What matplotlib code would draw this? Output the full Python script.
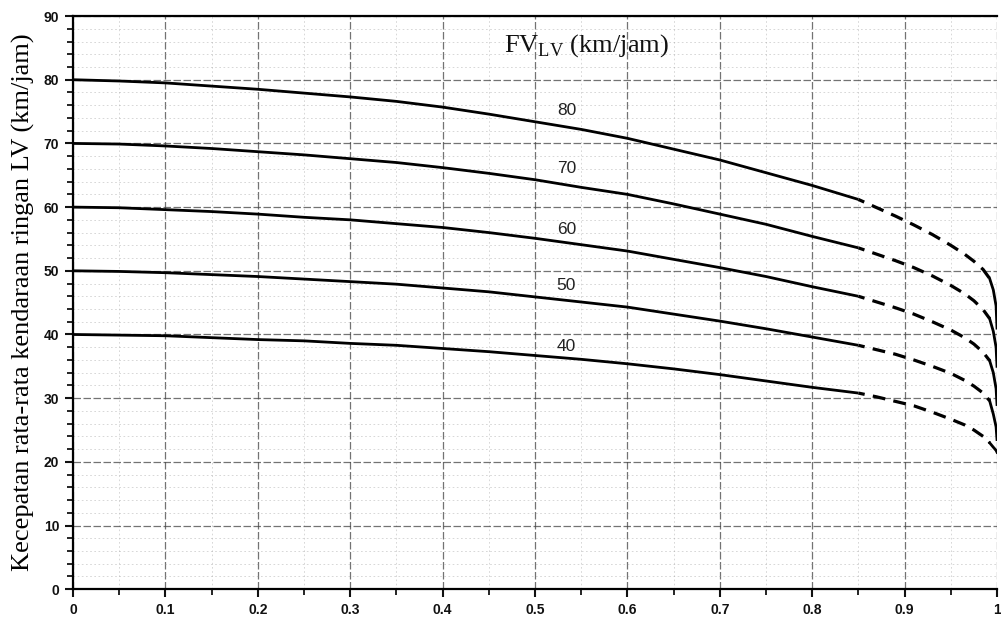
import numpy as np
import matplotlib.pyplot as plt
from matplotlib.ticker import MultipleLocator

# derajat kejenuhan (DS) — solid part
DS_SOLID = [0.0, 0.05, 0.1, 0.15, 0.2, 0.25, 0.3, 0.35, 0.4, 0.45,
            0.5, 0.55, 0.6, 0.65, 0.7, 0.75, 0.8, 0.85]
# dashed continuation towards DS = 1
DS_DASH = [0.85, 0.87, 0.89, 0.91, 0.93, 0.95, 0.965, 0.975, 0.985, 0.992]
# last steep bit that merges into the line at DS = 1
DS_END = [0.992, 0.996, 0.999, 1.0]

FV = [80, 70, 60, 50, 40]

V_SOLID = {
    80: [80.0, 79.8, 79.5, 79.0, 78.5, 77.9, 77.3, 76.6, 75.7, 74.6,
         73.4, 72.2, 70.8, 69.1, 67.4, 65.4, 63.4, 61.2],
    70: [70.0, 69.9, 69.6, 69.2, 68.7, 68.2, 67.6, 67.0, 66.2, 65.3,
         64.3, 63.1, 62.0, 60.5, 58.9, 57.3, 55.4, 53.6],
    60: [60.0, 59.9, 59.6, 59.3, 58.9, 58.4, 58.0, 57.4, 56.8, 56.0,
         55.1, 54.1, 53.1, 51.8, 50.5, 49.1, 47.5, 46.0],
    50: [50.0, 49.9, 49.7, 49.4, 49.1, 48.7, 48.3, 47.9, 47.3, 46.7,
         45.9, 45.1, 44.3, 43.2, 42.1, 40.9, 39.6, 38.3],
    40: [40.0, 39.9, 39.8, 39.5, 39.2, 39.0, 38.6, 38.3, 37.8, 37.3,
         36.7, 36.1, 35.4, 34.6, 33.7, 32.7, 31.7, 30.8],
}
V_DASH = {
    80: [61.2, 59.9, 58.6, 57.2, 55.7, 54.0, 52.6, 51.5, 50.2, 48.8],
    70: [53.6, 52.6, 51.6, 50.5, 49.2, 47.7, 46.4, 45.3, 43.9, 42.5],
    60: [46.0, 45.1, 44.2, 43.2, 42.0, 40.7, 39.5, 38.5, 37.2, 35.9],
    50: [38.3, 37.6, 36.9, 36.0, 35.0, 33.9, 32.8, 31.9, 30.8, 29.6],
    40: [30.8, 30.2, 29.5, 28.8, 27.8, 26.7, 25.8, 25.0, 24.0, 23.0],
}
V_END = {
    80: [48.8, 47.0, 44.5, 41.0],
    70: [42.5, 40.5, 38.0, 35.0],
    60: [35.9, 34.0, 31.5, 29.0],
    50: [29.6, 27.5, 25.5, 23.5],
    40: [23.0, 22.3, 21.8, 21.5],
}
# label positions of the FV values
LABEL_X = 0.534
LABEL_Y = [75.2, 66.0, 56.5, 47.7, 38.1]

fig = plt.figure(figsize=(10.01, 6.17), dpi=100)
ax = fig.add_axes([0.073, 0.045, 0.923, 0.929])

for fv, ly in zip(FV, LABEL_Y):
    ax.plot(DS_SOLID, V_SOLID[fv], color="black", lw=2.0, solid_capstyle="butt",
            solid_joinstyle="round", zorder=3)
    ax.plot(DS_DASH, V_DASH[fv], color="black", lw=2.3, linestyle=(2, (4, 2.6)),
            dash_capstyle="butt", zorder=3)
    ax.plot(DS_END, V_END[fv], color="black", lw=2.0, solid_joinstyle="round", zorder=3)
    ax.text(LABEL_X, ly, str(fv), ha="center", va="center", fontsize=12.5,
            family="Liberation Sans", color="#222222", zorder=4)

ax.text(0.556, 85.3, r"FV$_{\mathregular{LV}}$ (km/jam)", ha="center", va="center",
        fontsize=19, family="Liberation Serif", color="#111111")

ax.set_xlim(0, 1)
ax.set_ylim(0, 90)
ax.xaxis.set_minor_locator(MultipleLocator(0.05))
ax.yaxis.set_major_locator(MultipleLocator(10))
ax.yaxis.set_minor_locator(MultipleLocator(2))
ax.set_xticks(np.arange(0, 1.01, 0.1))
ax.set_xticklabels(["0", "0.1", "0.2", "0.3", "0.4", "0.5", "0.6", "0.7", "0.8", "0.9", "1"])

ax.grid(which="major", color="#444444", lw=0.9, linestyle=(0, (6, 2)), alpha=0.75, zorder=1)
ax.grid(which="minor", color="#999999", lw=0.6, linestyle=(0, (2, 3)), alpha=0.45, zorder=1)

ax.tick_params(which="major", direction="out", length=6, width=1.5, labelsize=10,
               colors="#111111", pad=4)
ax.tick_params(which="minor", direction="out", length=4, width=1.2)
for lab in ax.get_xticklabels() + ax.get_yticklabels():
    lab.set_fontweight("bold")
    lab.set_family("Liberation Sans")

for side in ["left", "bottom", "top"]:
    ax.spines[side].set_linewidth(1.6)
ax.spines["right"].set_visible(False)

ax.set_ylabel("Kecepatan rata-rata kendaraan ringan LV (km/jam)", fontsize=19,
              family="Liberation Serif", labelpad=6)

fig.savefig("out.png", dpi=100, facecolor="white")
